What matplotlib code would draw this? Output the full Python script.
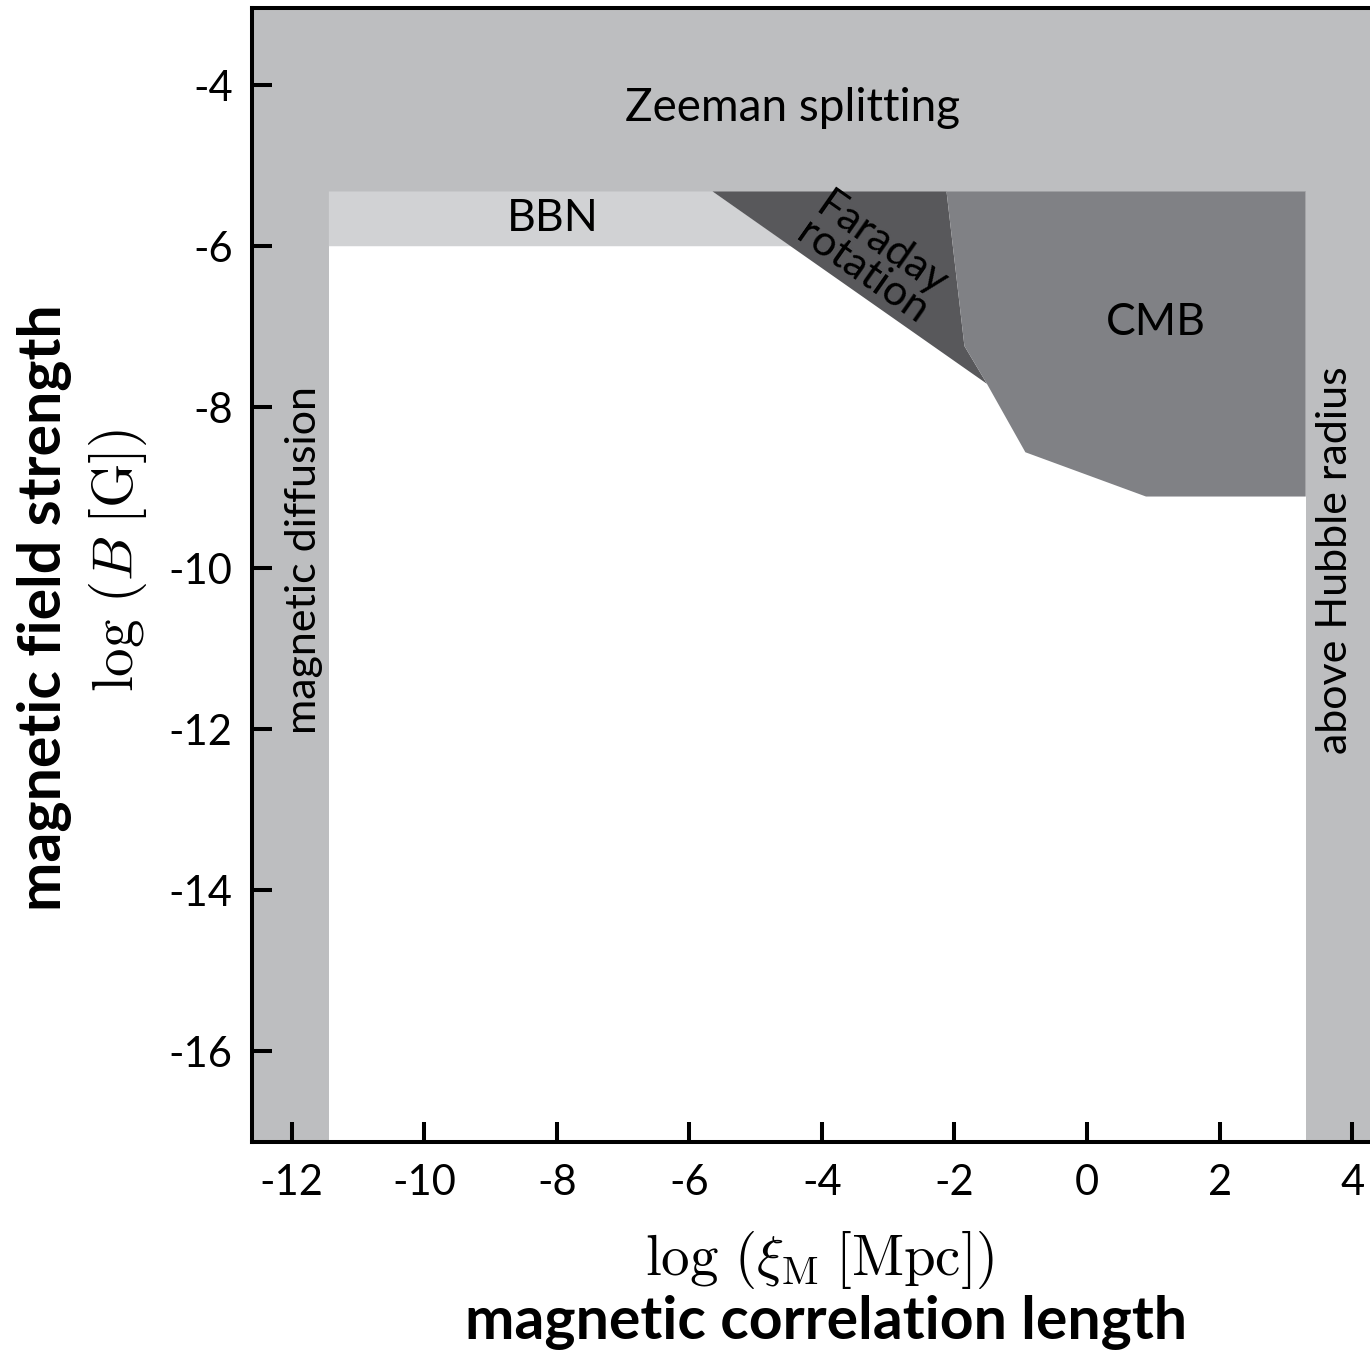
import matplotlib
matplotlib.use("Agg")
import matplotlib.pyplot as plt
from matplotlib.patches import Polygon

plt.rcParams['axes.unicode_minus'] = False
plt.rcParams['mathtext.fontset'] = 'cm'

# ---- data (log units) ----
x_limits = [-12.6, 4.27]
y_limits = [-17.13, -3.04]
x_ticks = [-12, -10, -8, -6, -4, -2, 0, 2, 4]
y_ticks = [-16, -14, -12, -10, -8, -6, -4]

zeeman_lower = -5.32
diffusion_upper_x = -11.44
hubble_lower_x = 3.30

bbn_x = [-11.44, -5.65, -4.46, -11.44]
bbn_y = [-5.32, -5.32, -6.0, -6.0]

faraday_x = [-5.65, -2.12, -1.85, -1.51]
faraday_y = [-5.32, -5.32, -7.24, -7.71]

cmb_x = [-2.12, 3.30, 3.30, 0.89, -0.93, -1.51, -1.85]
cmb_y = [-5.32, -5.32, -9.11, -9.11, -8.56, -7.71, -7.24]

c_light = '#bdbec0'
c_bbn = '#d1d2d4'
c_far = '#58585b'
c_cmb = '#808185'

W, H = 1370, 1350
fig = plt.figure(figsize=(W / 100, H / 100), dpi=100)
ax = fig.add_axes([252 / W, 1 - 1142 / H, 1 - 252 / W, (1142 - 8) / H])
ax.set_xlim(*x_limits)
ax.set_ylim(*y_limits)

# Zeeman band (top, full width)
ax.fill_between(x_limits, [zeeman_lower] * 2, [y_limits[1]] * 2, color=c_light, lw=0, zorder=1)
# magnetic diffusion (left)
ax.fill_between([x_limits[0], diffusion_upper_x], [y_limits[0]] * 2, [zeeman_lower] * 2,
                color=c_light, lw=0, zorder=1)
# above Hubble radius (right)
ax.fill_between([hubble_lower_x, x_limits[1]], [y_limits[0]] * 2, [zeeman_lower] * 2,
                color=c_light, lw=0, zorder=1)
ax.add_patch(Polygon(list(zip(bbn_x, bbn_y)), closed=True, fc=c_bbn, ec='none', zorder=2))
ax.add_patch(Polygon(list(zip(faraday_x, faraday_y)), closed=True, fc=c_far, ec='none', zorder=2))
ax.add_patch(Polygon(list(zip(cmb_x, cmb_y)), closed=True, fc=c_cmb, ec='none', zorder=2))

fam = 'Lato'
fs = 31
ax.text(-4.44, -4.28, 'Zeeman splitting', ha='center', va='center', fontsize=33, family=fam, zorder=5)
ax.text(-8.06, -5.65, 'BBN', ha='center', va='center', fontsize=32, family=fam, zorder=5)
ax.text(1.04, -6.95, 'CMB', ha='center', va='center', fontsize=32, family=fam, zorder=5)
ax.text(-3.25, -6.15, 'Faraday\nrotation', ha='center', va='center', fontsize=fs, family=fam,
        rotation=-35, rotation_mode='anchor', linespacing=0.85, zorder=5)
ax.text(-11.82, -9.9, 'magnetic diffusion', ha='center', va='center', fontsize=fs, family=fam,
        rotation=90, zorder=5)
ax.text(3.74, -9.9, 'above Hubble radius', ha='center', va='center', fontsize=fs, family=fam,
        rotation=90, zorder=5)

ax.set_xticks(x_ticks)
ax.set_yticks(y_ticks)
ax.set_xticklabels([str(v) for v in x_ticks], family=fam, fontsize=30)
ax.set_yticklabels([str(v) for v in y_ticks], family=fam, fontsize=30)
ax.tick_params(direction='in', length=14.5, width=2.9, pad=14, color='black')
ax.tick_params(axis='x', pad=16)
for s in ['left', 'bottom', 'top']:
    ax.spines[s].set_linewidth(2.9)
    ax.spines[s].set_zorder(10)
ax.spines['right'].set_visible(False)
for t in ax.get_xticklines() + ax.get_yticklines():
    t.set_zorder(10)

fig.text(45 / W, 1 - 608 / H, 'magnetic field strength', rotation=90, ha='center', va='center',
         fontsize=42.5, family=fam, fontweight='bold')
fig.text(118 / W, 1 - 560 / H, r'$\log\,(B\;[\mathrm{G}])$', rotation=90, ha='center', va='center',
         fontsize=41)
fig.text(820 / W, 1 - 1260 / H, r'$\log\,(\xi_{\mathrm{M}}\;[\mathrm{Mpc}])$', ha='center', va='center',
         fontsize=41)
fig.text(826 / W, 1 - 1322 / H, 'magnetic correlation length', ha='center', va='center',
         fontsize=42.5, family=fam, fontweight='bold')

fig.savefig('out.png', dpi=100)
